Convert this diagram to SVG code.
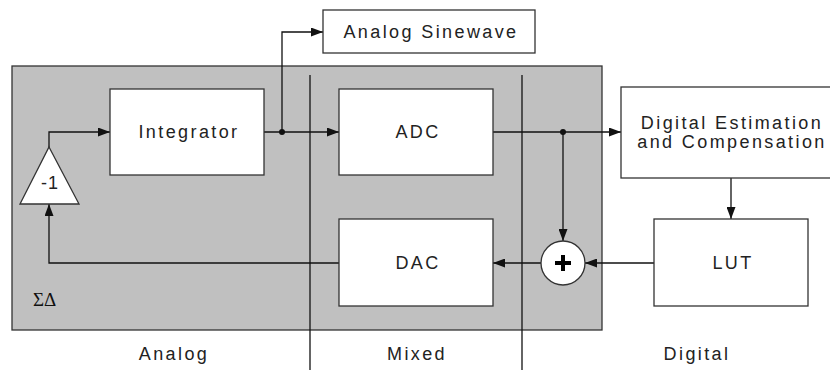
<svg xmlns="http://www.w3.org/2000/svg" width="830" height="370" viewBox="0 0 830 370">
<style>
.box{fill:#fff;stroke:#333;stroke-width:1.3}
.t{font-family:"Liberation Sans",Arial,sans-serif;font-size:18px;letter-spacing:2.4px;fill:#222;text-anchor:middle}
.ln{fill:none;stroke:#111;stroke-width:1.3}
</style>
<defs>
<marker id="ah" viewBox="0 0 12 9" refX="12" refY="4.5" markerWidth="12" markerHeight="9" markerUnits="userSpaceOnUse" orient="auto">
<path d="M0,0 L12,4.5 L0,9 Z" fill="#111"/>
</marker>
</defs>
<rect id="sigma-delta" x="12" y="66" width="590" height="264" fill="#c0c0c0" stroke="#333" stroke-width="1.3"/>
<g id="dividers">
<line class="ln" x1="310" y1="75" x2="310" y2="370"/>
<line class="ln" x1="522" y1="75" x2="522" y2="370"/>
</g>
<g id="connectors">
<path class="ln" d="M264,132 H339" marker-end="url(#ah)"/>
<path class="ln" d="M282,132 V32 H323" marker-end="url(#ah)"/>
<path class="ln" d="M493,132 H621" marker-end="url(#ah)"/>
<path class="ln" d="M563,132 V241" marker-end="url(#ah)"/>
<path class="ln" d="M731,178 V219" marker-end="url(#ah)"/>
<path class="ln" d="M654,263 H585" marker-end="url(#ah)"/>
<path class="ln" d="M541,263 H493" marker-end="url(#ah)"/>
<path class="ln" d="M339,263 H49 V204" marker-end="url(#ah)"/>
<path class="ln" d="M49,148 V132 H110" marker-end="url(#ah)"/>
<circle cx="282" cy="132" r="3" fill="#111"/>
<circle cx="563" cy="132" r="3" fill="#111"/>
</g>
<g id="analog-sinewave">
<rect class="box" x="323" y="10" width="212" height="43"/>
<text class="t" x="431" y="38">Analog Sinewave</text>
</g>
<g id="integrator">
<rect class="box" x="110" y="89" width="154" height="86"/>
<text class="t" x="189" y="138">Integrator</text>
</g>
<g id="adc">
<rect class="box" x="339" y="89" width="154" height="86"/>
<text class="t" x="418" y="138">ADC</text>
</g>
<g id="dac">
<rect class="box" x="339" y="219" width="154" height="87"/>
<text class="t" x="418" y="269">DAC</text>
</g>
<g id="digital-estimation">
<rect class="box" x="621" y="87" width="220" height="91"/>
<text class="t" x="732" y="129">Digital Estimation</text>
<text class="t" x="732" y="148">and Compensation</text>
</g>
<g id="lut">
<rect class="box" x="654" y="219" width="154" height="87"/>
<text class="t" x="733" y="269">LUT</text>
</g>
<g id="gain">
<path class="box" d="M49,147 L79,204 L20,204 Z"/>
<text class="t" x="50" y="189" style="letter-spacing:1px">-1</text>
</g>
<g id="sum">
<circle class="box" cx="563" cy="263" r="22"/>
<path d="M555,263 H571 M563,255 V271" stroke="#000" stroke-width="4" fill="none"/>
</g>
<text x="33" y="306" font-family="'Liberation Serif','Times New Roman',serif" font-size="19" fill="#111">ΣΔ</text>
<text class="t" x="174" y="360">Analog</text>
<text class="t" x="417" y="360">Mixed</text>
<text class="t" x="697" y="360">Digital</text>
</svg>
